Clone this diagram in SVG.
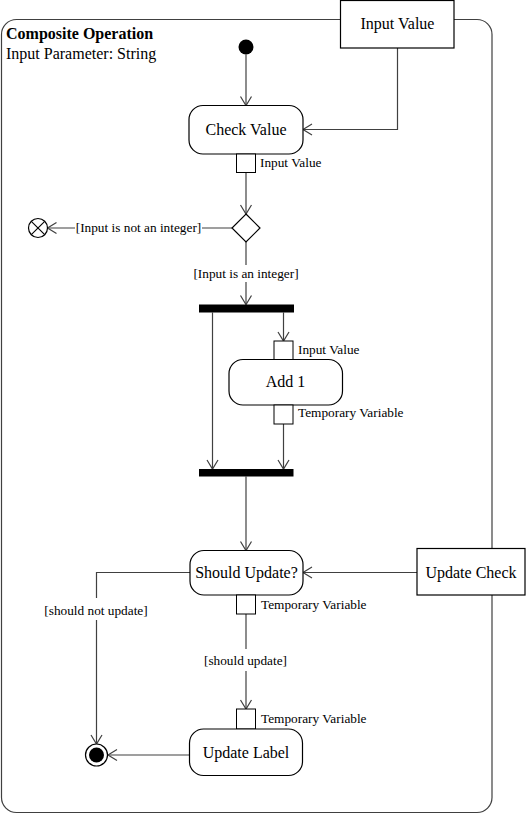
<svg xmlns="http://www.w3.org/2000/svg" width="530" height="814" viewBox="0 0 530 814">
<defs>
<style>
.fr{fill:#fff;stroke:#404040;stroke-width:1.2}
.nd{fill:#fff;stroke:#000;stroke-width:1.2}
.pin{fill:#fff;stroke:#000;stroke-width:1}
.bar{fill:#000;stroke:none}
.cn{fill:none;stroke:#404040;stroke-width:1.2}
text{font-family:'Liberation Serif','DejaVu Serif','Times New Roman',serif;fill:#000}
.big{font-size:16px}
.sm{font-size:13.3px}
.b{font-weight:bold}
.mid{text-anchor:middle}
.bg{fill:#fff;stroke:none}
</style>
<marker id="arr" markerUnits="userSpaceOnUse" markerWidth="14" markerHeight="14" viewBox="0 0 14 14" refX="11" refY="7" orient="auto" overflow="visible">
<path d="M2,1.5 L11,7 L2,12.5" fill="none" stroke="#404040" stroke-width="1.2"/>
</marker>
</defs>

<g id="frame">
<rect class="fr" x="1.5" y="19.5" width="490.5" height="793" rx="15" ry="15"/>
<text class="big b" x="6" y="39" font-family="Liberation Serif, serif">Composite Operation</text>
<text class="big" x="6" y="59" font-family="Liberation Serif, serif">Input Parameter: String</text>
</g>

<g id="connectors">
<line class="cn" x1="246" y1="54.5" x2="246" y2="105.5" marker-end="url(#arr)"/>
<polyline class="cn" points="397.5,48 397.5,129.5 303,129.5" marker-end="url(#arr)"/>
<line class="cn" x1="246" y1="172.5" x2="246" y2="214" marker-end="url(#arr)"/>
<line class="cn" x1="232" y1="228" x2="47.5" y2="228" marker-end="url(#arr)"/>
<rect class="bg" x="75" y="219" width="127" height="17"/>
<text class="sm mid" x="138.5" y="232">[Input is not an integer]</text>
<line class="cn" x1="246" y1="242" x2="246" y2="304.5" marker-end="url(#arr)"/>
<rect class="bg" x="192" y="265" width="108" height="17"/>
<text class="sm mid" x="246" y="278">[Input is an integer]</text>
<line class="cn" x1="212.5" y1="312.5" x2="212.5" y2="469" marker-end="url(#arr)"/>
<line class="cn" x1="283.5" y1="312.5" x2="283.5" y2="341" marker-end="url(#arr)"/>
<line class="cn" x1="283.5" y1="424" x2="283.5" y2="469" marker-end="url(#arr)"/>
<line class="cn" x1="246" y1="476.5" x2="246" y2="550.5" marker-end="url(#arr)"/>
<line class="cn" x1="417" y1="572.5" x2="303" y2="572.5" marker-end="url(#arr)"/>
<polyline class="cn" points="190,572.5 96.5,572.5 96.5,744" marker-end="url(#arr)"/>
<rect class="bg" x="42" y="598" width="109" height="22"/>
<text class="sm mid" x="96" y="615">[should not update]</text>
<line class="cn" x1="246" y1="614" x2="246" y2="709" marker-end="url(#arr)"/>
<rect class="bg" x="200" y="649" width="92" height="22"/>
<text class="sm mid" x="245.5" y="665">[should update]</text>
<line class="cn" x1="189.5" y1="755" x2="108" y2="755" marker-end="url(#arr)"/>
</g>

<g id="initial">
<circle cx="246" cy="47" r="7.5" fill="#000"/>
</g>

<g id="input-value">
<rect class="nd" x="340.5" y="0.5" width="113.5" height="47.5"/>
<text class="big mid" x="397.5" y="29">Input Value</text>
</g>

<g id="check-value">
<rect class="nd" x="189" y="105.5" width="114" height="48.5" rx="14" ry="14"/>
<text class="big mid" x="246" y="135">Check Value</text>
<rect class="pin" x="236.5" y="154" width="19" height="18.5"/>
<text class="sm" x="260" y="167">Input Value</text>
</g>

<g id="decision">
<polygon class="nd" points="246,214 260,228 246,242 232,228"/>
</g>

<g id="flow-final">
<circle class="nd" cx="38" cy="228" r="9.5"/>
<line stroke="#000" stroke-width="1.1" x1="31.3" y1="221.3" x2="44.7" y2="234.7"/>
<line stroke="#000" stroke-width="1.1" x1="31.3" y1="234.7" x2="44.7" y2="221.3"/>
</g>

<g id="fork">
<rect class="bar" x="199" y="304.5" width="95" height="8"/>
</g>

<g id="add-1">
<rect class="pin" x="274" y="341" width="19" height="18.5"/>
<text class="sm" x="298" y="354">Input Value</text>
<rect class="nd" x="229" y="359.5" width="113.5" height="45.5" rx="14" ry="14"/>
<text class="big mid" x="285.5" y="387">Add 1</text>
<rect class="pin" x="274" y="405" width="19" height="19"/>
<text class="sm" x="298" y="417">Temporary Variable</text>
</g>

<g id="join">
<rect class="bar" x="199" y="469" width="94.5" height="7.5"/>
</g>

<g id="should-update">
<rect class="nd" x="190" y="550.5" width="113" height="44.5" rx="14" ry="14"/>
<text class="big mid" x="246.5" y="577.5">Should Update?</text>
<rect class="pin" x="236.5" y="595" width="19" height="19"/>
<text class="sm" x="261" y="608.5">Temporary Variable</text>
</g>

<g id="update-check">
<rect class="nd" x="417" y="548.5" width="108" height="46.5"/>
<text class="big mid" x="471" y="577.5">Update Check</text>
</g>

<g id="update-label">
<rect class="pin" x="236.5" y="709" width="19" height="20"/>
<text class="sm" x="261" y="722.5">Temporary Variable</text>
<rect class="nd" x="189.5" y="729" width="113" height="46.5" rx="14" ry="14"/>
<text class="big mid" x="246" y="757.5">Update Label</text>
</g>

<g id="activity-final">
<circle cx="96.5" cy="755" r="11" fill="#fff" stroke="#000" stroke-width="1.2"/>
<circle cx="96.5" cy="755" r="7.5" fill="#000"/>
</g>
</svg>
